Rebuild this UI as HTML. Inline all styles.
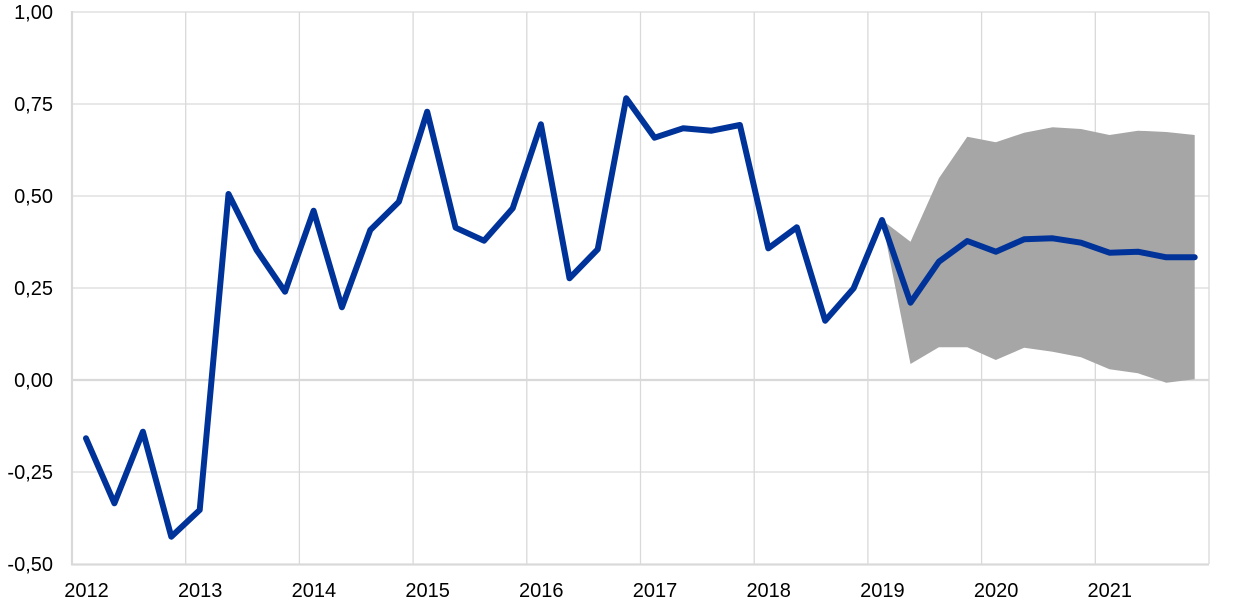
<!DOCTYPE html>
<html>
<head>
<meta charset="utf-8">
<style>
html,body{margin:0;padding:0;background:#fff;}
svg{display:block;}
text{font-family:"Liberation Sans",Arial,sans-serif;font-size:20px;fill:#000;}
</style>
</head>
<body>
<svg width="1240" height="608" viewBox="0 0 1240 608" xmlns="http://www.w3.org/2000/svg">
  <!-- vertical gridlines -->
  <g stroke="#d9d9d9" stroke-width="1.3">
    <line x1="185.7" y1="12" x2="185.7" y2="564"/>
    <line x1="299.4" y1="12" x2="299.4" y2="564"/>
    <line x1="413.1" y1="12" x2="413.1" y2="564"/>
    <line x1="526.8" y1="12" x2="526.8" y2="564"/>
    <line x1="640.5" y1="12" x2="640.5" y2="564"/>
    <line x1="754.2" y1="12" x2="754.2" y2="564"/>
    <line x1="867.9" y1="12" x2="867.9" y2="564"/>
    <line x1="981.6" y1="12" x2="981.6" y2="564"/>
    <line x1="1095.3" y1="12" x2="1095.3" y2="564"/>
    <line x1="1209" y1="12" x2="1209" y2="564"/>
  </g>
  <!-- horizontal gridlines -->
  <g stroke="#d9d9d9" stroke-width="1.3">
    <line x1="72" y1="12" x2="1209" y2="12"/>
    <line x1="72" y1="104" x2="1209" y2="104"/>
    <line x1="72" y1="196" x2="1209" y2="196"/>
    <line x1="72" y1="288" x2="1209" y2="288"/>
    <line x1="72" y1="472" x2="1209" y2="472"/>
  </g>
  <line x1="72" y1="380" x2="1209" y2="380" stroke="#d9d9d9" stroke-width="2.2"/>
  <line x1="72" y1="564.5" x2="1209" y2="564.5" stroke="#d9d9d9" stroke-width="2.2"/>
  <line x1="72" y1="11" x2="72" y2="565.5" stroke="#d9d9d9" stroke-width="2.2"/>

  <!-- uncertainty band -->
  <polygon fill="#a6a6a6" points="882,220 910.5,241.7 938.9,178.3 967.3,136.7 995.8,142.3 1024.2,132.7 1052.6,127.3 1081,129 1109.5,135 1137.9,130.7 1166.3,132 1194.7,135 1194.7,379.3 1166.3,382.7 1137.9,373.3 1109.5,369.3 1081,357.3 1052.6,351.7 1024.2,347.7 995.8,360 967.3,347.3 938.9,347.3 910.5,364 882,220"/>

  <!-- main line -->
  <polyline fill="none" stroke="#003399" stroke-width="6" stroke-linejoin="round" stroke-linecap="round"
    points="86,438.3 114.4,503.3 142.9,431.7 171.3,536.7 199.7,510 228.5,194 256.6,250 285,291.7 313.6,210.7 341.9,307.3 370.3,230 398.9,201.7 427.2,111.7 455.6,227.7 484,240.7 512.7,208.3 540.9,124.3 569.5,278.3 597.7,249.3 626.2,98.3 654.6,137.7 683,128.3 711.5,130.7 739.9,125 768.3,248.3 796.8,227.3 825.2,320.7 853.6,288.3 882,220 910.5,302.7 938.9,261.7 967.3,241 995.8,251.7 1024.2,239.3 1052.6,238.3 1081,242.7 1109.5,252.7 1137.9,251.7 1166.3,257.3 1194.7,257.3"/>

  <!-- y labels -->
  <g text-anchor="end">
    <text x="53" y="19">1,00</text>
    <text x="53" y="111">0,75</text>
    <text x="53" y="203">0,50</text>
    <text x="53" y="295">0,25</text>
    <text x="53" y="387">0,00</text>
    <text x="53" y="479">-0,25</text>
    <text x="53" y="571">-0,50</text>
  </g>
  <!-- x labels -->
  <g text-anchor="middle">
    <text x="86.5" y="597">2012</text>
    <text x="200.2" y="597">2013</text>
    <text x="313.9" y="597">2014</text>
    <text x="427.6" y="597">2015</text>
    <text x="541.3" y="597">2016</text>
    <text x="655" y="597">2017</text>
    <text x="768.7" y="597">2018</text>
    <text x="882.4" y="597">2019</text>
    <text x="996.1" y="597">2020</text>
    <text x="1109.8" y="597">2021</text>
  </g>
</svg>
</body>
</html>
